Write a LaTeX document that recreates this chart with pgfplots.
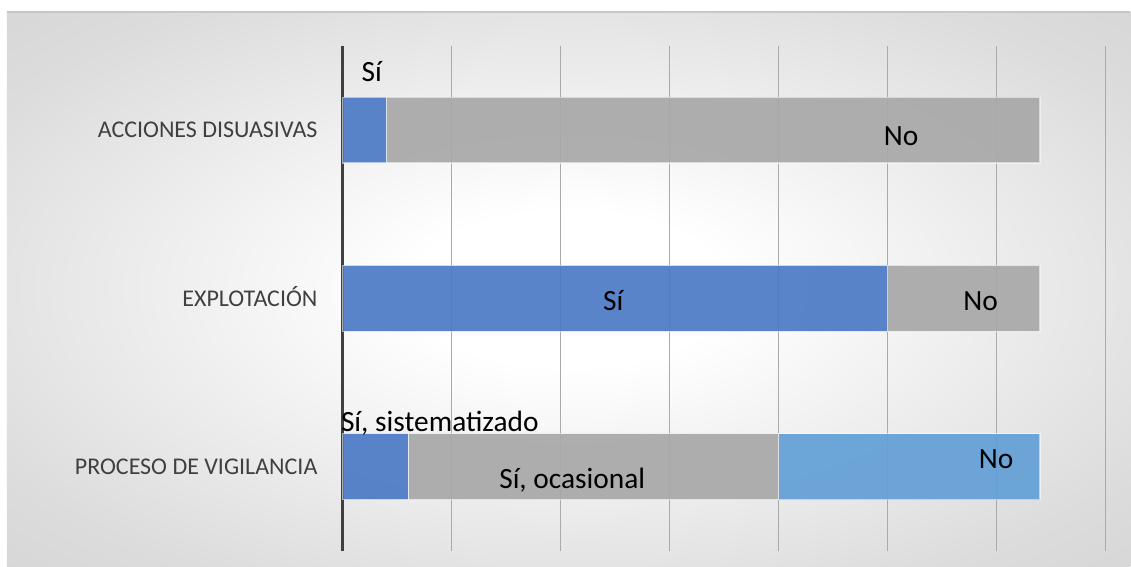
\documentclass[border=0pt]{standalone}
\usepackage{fontspec}
\setmainfont{Carlito}
\usepackage{pgfplots}
\pgfplotsset{compat=1.18}

\definecolor{barblue}{RGB}{76,122,197}
\definecolor{bargrey}{RGB}{168,168,168}
\definecolor{barlight}{RGB}{98,159,214}
\definecolor{labelgrey}{RGB}{64,64,64}
\definecolor{gridgrey}{RGB}{170,170,170}
\definecolor{axisdark}{RGB}{64,64,64}
\definecolor{bgA}{RGB}{220,220,220}
\definecolor{bgB}{RGB}{202,202,202}
\definecolor{bgC}{RGB}{192,192,192}

% soft radial backdrop: white in the middle, grey towards the corners
\pgfdeclareradialshading{backdrop}{\pgfpoint{0bp}{0bp}}{%
  color(0bp)=(white); color(7bp)=(white);
  color(30bp)=(bgA); color(50bp)=(bgB); color(71bp)=(bgC); color(100bp)=(bgC)}

\begin{document}
\begin{tikzpicture}
  \fill[white] (-171.5pt,-8pt) rectangle (394pt,275.5pt);
  \shade[shading=backdrop] (-168pt,-8pt) rectangle (394pt,269.5pt);
  \draw[black!22, line width=0.6pt] (-168pt,269.5pt) -- (394pt,269.5pt);

  \begin{axis}[
    scale only axis,
    width=381.5pt, height=252.5pt,
    xbar stacked,
    bar width=33pt,
    xmin=0, xmax=35,
    ymin=-0.5, ymax=2.5,
    xtick={0,5,...,35},
    xticklabels={},
    xmajorgrids,
    grid style={gridgrey, line width=0.5pt},
    major tick length=0pt,
    ytick={0,1,2},
    yticklabels={PROCESO DE VIGILANCIA, EXPLOTACIÓN, ACCIONES DISUASIVAS},
    yticklabel style={font=\fontsize{12}{14}\selectfont, text=labelgrey,
      anchor=base east, inner sep=0pt, xshift=-12.5pt, yshift=-3.9pt},
    axis x line=bottom,
    axis y line=left,
    x axis line style={draw=none},
    y axis line style={-, axisdark, line width=1.5pt},
    clip=false,
  ]
    % Sí / Sí, sistematizado
    \addplot[fill=barblue, draw=white, fill opacity=0.92, draw opacity=0.55, line width=0.6pt]
      coordinates {(3,0) (25,1) (2,2)};
    % No / Sí, ocasional
    \addplot[fill=bargrey, draw=white, fill opacity=0.92, draw opacity=0.55, line width=0.6pt]
      coordinates {(17,0) (7,1) (30,2)};
    % No (vigilancia)
    \addplot[fill=barlight, draw=white, fill opacity=0.92, draw opacity=0.55, line width=0.6pt]
      coordinates {(12,0)};

    % anchor points of the segment captions
    \coordinate (lA1) at (axis cs:1.33,2.286);
    \coordinate (lA2) at (axis cs:25.62,1.906);
    \coordinate (lE1) at (axis cs:12.41,0.926);
    \coordinate (lE2) at (axis cs:29.27,0.926);
    \coordinate (lP1) at (axis cs:4.45,0.207);
    \coordinate (lP2) at (axis cs:10.53,-0.132);
    \coordinate (lP3) at (axis cs:29.98,-0.013);
  \end{axis}

  % captions go above the (deferred) stacked bars
  \begin{scope}[every node/.style={anchor=base, font=\fontsize{14.7}{16}\selectfont, text=black}]
    \node at (lA1) {Sí};
    \node at (lA2) {No};
    \node at (lE1) {Sí};
    \node at (lE2) {No};
    \node at (lP1) {Sí, sistematizado};
    \node at (lP2) {Sí, ocasional};
    \node at (lP3) {No};
  \end{scope}
\end{tikzpicture}
\end{document}
